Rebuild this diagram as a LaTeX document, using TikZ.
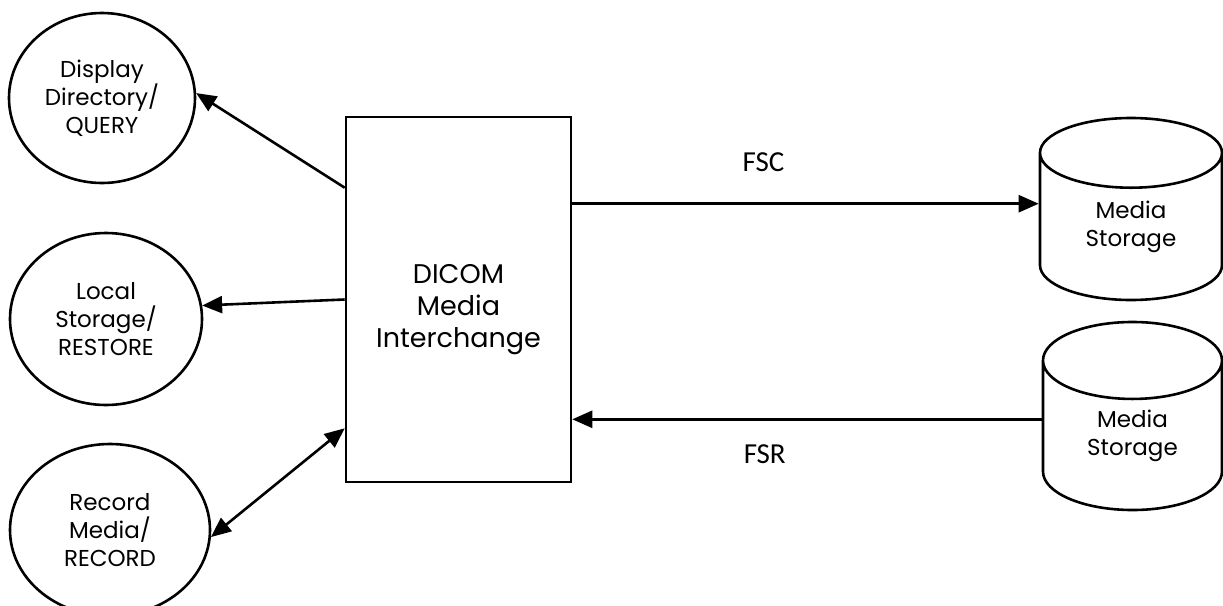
\documentclass[tikz,border=0pt]{standalone}
\usepackage{fontspec}
\setmainfont{Poppins}
\newfontfamily\calib{Carlito}
\usetikzlibrary{arrows.meta,shapes.geometric}

\begin{document}
\begin{tikzpicture}[x=0.5pt, y=-0.5pt, line width=1.3pt,
  app/.style={ellipse, draw, inner sep=0pt, align=center, font=\fontsize{11.5}{14}\selectfont},
  disk/.style={cylinder, shape border rotate=90, draw, aspect=0.77, inner sep=0pt, anchor=shape center, align=center, font=\fontsize{11.5}{14}\selectfont},
  >={Triangle[length=10pt, width=8.5pt]}]
% \draw [help lines,color=green]  (0,0) grid [step=50] (1223,606);
\useasboundingbox (0,0) rectangle (1223,606);
%%%%%%%%%
\node [app, minimum width=93pt, minimum height=85pt] (query) at (102,98) {Display\\Directory/\\QUERY};
\node [app, minimum width=96pt, minimum height=86pt] (restore) at (106,319) {Local\\Storage/\\RESTORE};
\node [app, minimum width=100pt, minimum height=86pt] (record) at (110,530) {Record\\Media/\\RECORD};
\node [draw, minimum width=112.5pt, minimum height=182.5pt] (dicom) at (458.5,299.5) {};
\node [align=center, font=\fontsize{13.5}{16}\selectfont] (dicomtext) at ([yshift=-5pt]dicom.center) {DICOM\\Media\\Interchange};
\node [disk, minimum width=91pt, minimum height=91pt] (store1) at (1131,209) {Media\\Storage};
\node [disk, aspect=0.85, minimum width=89.5pt, minimum height=94pt] (store2) at (1132.5,416) {Media\\Storage};
%%%%%%%%%
\draw [->] ([yshift=-36pt]dicom.north west) -- (query.3);
\draw [->] (dicom.west) -- (restore.8);
\draw [<->] ([yshift=27.5pt]dicom.south west) -- (record.-4);
\coordinate (fscout) at ([yshift=-44pt]dicom.north east);
\coordinate (fsrin) at ([yshift=32pt]dicom.south east);
\draw [->] (fscout) -- node [pos=0.41, yshift=21pt, font=\calib\fontsize{14.5}{16}\selectfont] (fsc) {FSC} (fscout -| store1.180);
\draw [->] (fsrin -| store2.180) -- node [pos=0.59, yshift=-17.5pt, font=\calib\fontsize{14.5}{16}\selectfont] (fsr) {FSR} (fsrin);
\end{tikzpicture}
\end{document}
